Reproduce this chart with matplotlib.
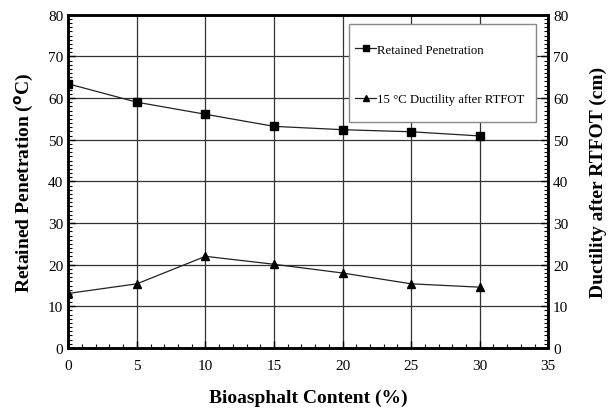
import matplotlib
matplotlib.use("Agg")
import matplotlib.pyplot as plt
from matplotlib.patches import Rectangle
from matplotlib.ticker import MultipleLocator

content = [0, 5, 10, 15, 20, 25, 30]
retained_penetration = [63.4, 59.0, 56.1, 53.2, 52.4, 51.9, 50.9]
ductility_rtfot = [13.1, 15.4, 22.0, 20.1, 18.0, 15.4, 14.6]

plt.rcParams['font.family'] = ['Liberation Serif', 'DejaVu Serif']

fig = plt.figure(figsize=(6.08, 4.10), dpi=100)
ax = fig.add_axes([0.1123, 0.1488, 0.7895, 0.8129])

ax.plot(content, retained_penetration, color='#222222', lw=0.9, marker='s',
        ms=5.5, mfc='black', mec='black', label='Retained Penetration')
ax.plot(content, ductility_rtfot, color='#222222', lw=0.9, marker='^',
        ms=5.5, mfc='black', mec='black', label='15 °C Ductility after RTFOT')

ax.set_xlim(0, 35)
ax.set_ylim(0, 80)
ax.xaxis.set_major_locator(MultipleLocator(5))
ax.xaxis.set_minor_locator(MultipleLocator(1))
ax.yaxis.set_major_locator(MultipleLocator(10))
ax.yaxis.set_minor_locator(MultipleLocator(1))
ax.grid(True, which='major', color='#333333', lw=0.9)
ax.set_axisbelow(True)

for s in ax.spines.values():
    s.set_linewidth(1.8)

ax.tick_params(which='both', direction='in', labelsize=11)
ax.tick_params(which='major', length=5, width=1)
ax.tick_params(which='minor', length=3, width=0.8)
ax.tick_params(axis='x', pad=8)

ax2 = ax.twinx()
ax2.set_ylim(0, 80)
ax2.yaxis.set_major_locator(MultipleLocator(10))
ax2.yaxis.set_minor_locator(MultipleLocator(1))
ax2.tick_params(which='both', direction='in', labelsize=11)
ax2.tick_params(which='major', length=5, width=1)
ax2.tick_params(which='minor', length=3, width=0.8)
for s in ax2.spines.values():
    s.set_linewidth(1.8)

ax.set_xlabel('Bioasphalt Content (%)', fontsize=14, fontweight='bold', labelpad=12)
ax.set_ylabel('Retained Penetration ($^{\\mathbf{o}}$C)', fontsize=14, fontweight='bold', labelpad=9)
ax2.set_ylabel('Ductility after RTFOT (cm)', fontsize=14, fontweight='bold', labelpad=15)

# legend box drawn as a separate framed rectangle
box = Rectangle((0.585, 0.679), 0.389, 0.293, transform=ax.transAxes,
                facecolor='white', edgecolor='#888888', lw=1.0, zorder=5)
ax2.add_patch(box)
h1, l1 = ax.get_legend_handles_labels()
leg = ax2.legend(h1, l1, loc='upper left', bbox_to_anchor=(0.598, 0.913),
                 bbox_transform=ax.transAxes, fontsize=9.2, frameon=False,
                 labelspacing=2.95, handlelength=1.6, handletextpad=0.1,
                 borderpad=0, borderaxespad=0, markerscale=0.75)
leg.set_zorder(6)

fig.savefig('out.png', dpi=100)
